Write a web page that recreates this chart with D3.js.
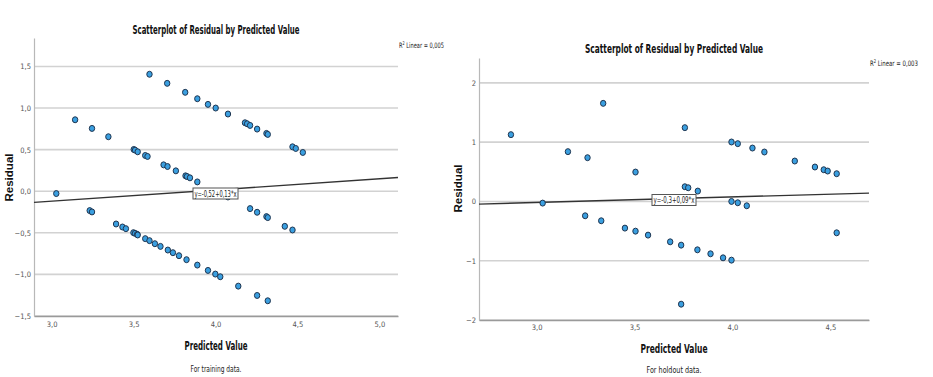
<!DOCTYPE html>
<html>
<head>
<meta charset="utf-8">
<title>Scatterplot of Residual by Predicted Value</title>
<style>
  body { margin: 0; background: #fff; }
  svg { display: block; }
  text { font-family: "Liberation Sans Narrow", "DejaVu Sans Condensed", "Arial Narrow", sans-serif; }
  .ttl { font-weight: bold; font-size: 11.5px; fill: #111; }
  .ylab { font-family: "Liberation Sans", Arial, sans-serif; font-weight: bold; font-size: 11px; fill: #111; }
  .note { font-size: 8.5px; fill: #222; }
  .r2 { font-size: 7.5px; fill: #222; }
  .eq { font-size: 8.5px; fill: #222; }
</style>
</head>
<body>
<svg width="933" height="377"></svg>
<script src="https://cdnjs.cloudflare.com/ajax/libs/d3/7.8.5/d3.min.js"></script>
<script>

// ---- training data (left panel) ----
var trainPred = [3.597, 3.705, 3.815, 3.889, 3.954, 4.001, 4.076, 4.180, 4.193, 4.211, 4.254, 4.311, 4.319, 4.470, 4.490, 4.533,
  3.143, 3.246, 3.346, 3.501, 3.509, 3.525, 3.571, 3.585, 3.683, 3.707, 3.758, 3.817, 3.826, 3.844, 3.889,
  4.076, 4.211, 4.254, 4.311, 4.319, 4.423, 4.470,
  3.028, 3.232, 3.246, 3.393, 3.432, 3.453, 3.499, 3.509, 3.522, 3.525, 3.571, 3.597, 3.630, 3.664, 3.709,
  3.740, 3.777, 3.823, 3.889, 3.954, 3.999, 4.029, 4.139, 4.254, 4.319];
var trainResid = [1.406, 1.297, 1.189, 1.112, 1.044, 1.000, 0.928, 0.823, 0.811, 0.791, 0.747, 0.695, 0.683, 0.534, 0.514, 0.466,
  0.859, 0.755, 0.655, 0.502, 0.494, 0.474, 0.430, 0.418, 0.317, 0.297, 0.245, 0.185, 0.177, 0.161, 0.112,
  -0.069, -0.209, -0.253, -0.305, -0.317, -0.422, -0.466,
  -0.028, -0.233, -0.249, -0.394, -0.430, -0.450, -0.498, -0.506, -0.518, -0.526, -0.570, -0.594, -0.631, -0.663, -0.707,
  -0.739, -0.775, -0.823, -0.888, -0.952, -0.996, -1.028, -1.141, -1.253, -1.317];
var trainXTicks = [3.0, 3.5, 4.0, 4.5, 5.0];
var trainYTicks = [-1.5, -1.0, -0.5, 0.0, 0.5, 1.0, 1.5];
var trainFit = [-0.525, 0.135];   // intercept, slope
var trainEq = "y=-0,52+0,13*x";
var trainR2 = "0,005";

// ---- holdout data (right panel) ----
var holdPred = [2.869, 3.160, 3.260, 3.340, 3.505, 3.757, 3.757, 3.774, 3.823, 3.995, 4.027, 4.102, 4.163, 4.318, 4.421, 4.466, 4.486, 4.532,
  3.031, 3.248, 3.330, 3.451, 3.505, 3.569, 3.682, 3.738, 3.821, 3.888, 3.952, 3.995, 3.738, 3.995, 4.027, 4.073, 4.532];
var holdResid = [1.127, 0.840, 0.738, 1.655, 0.496, 1.245, 0.248, 0.231, 0.175, 1.003, 0.975, 0.901, 0.834, 0.682, 0.581, 0.535, 0.513, 0.468,
  -0.028, -0.242, -0.326, -0.450, -0.501, -0.568, -0.681, -0.737, -0.816, -0.883, -0.951, -0.990, -1.733, 0.000, -0.022, -0.073, -0.529];
var holdXTicks = [3.0, 3.5, 4.0, 4.5];
var holdYTicks = [-2, -1, 0, 1, 2];
var holdFit = [-0.296, 0.093];
var holdEq = "y=-0,3+0,09*x";
var holdR2 = "0,003";

var svg = d3.select("svg");
var comma1 = function (d) { return d3.format(".1f")(d).replace(".", ","); };
var commaInt = function (d) { return d3.format("d")(d); };

// squeeze a text to the width seen in the screenshot
function fit(sel, w) {
  return sel.attr("textLength", w).attr("lengthAdjust", "spacingAndGlyphs");
}

function drawPanel(p) {
  var g = svg.append("g");
  var x = d3.scaleLinear().domain(p.xDomain).range([p.left, p.right]);
  var y = d3.scaleLinear().domain(p.yDomain).range([p.bottom, p.top]);

  // grid lines
  g.append("g").selectAll("line")
    .data(p.yTicks)
    .enter().append("line")
    .attr("x1", p.left).attr("x2", p.right)
    .attr("y1", function (d) { return y(d); })
    .attr("y2", function (d) { return y(d); })
    .attr("stroke", "#d2d2d2")
    .attr("stroke-width", 1.6);

  // axes
  var ax = g.append("g")
    .attr("transform", "translate(0," + p.bottom + ")")
    .call(d3.axisBottom(x).tickValues(p.xTicks).tickFormat(comma1).tickSize(0).tickPadding(p.xPad));
  ax.select(".domain").attr("stroke", "#9a9a9a").attr("stroke-width", 1.6);
  ax.selectAll("text").style("font-size", "7.5px").style("fill", "#555")
    .style("font-family", "'DejaVu Sans Condensed', sans-serif");

  var ay = g.append("g")
    .attr("transform", "translate(" + p.left + ",0)")
    .call(d3.axisLeft(y).tickValues(p.yTicks).tickFormat(p.yFormat).tickSize(0).tickPadding(3));
  ay.select(".domain").attr("stroke", "#b8b8b8").attr("stroke-width", 1.2);
  ay.selectAll("text").style("font-size", "7.5px").style("fill", "#555")
    .style("font-family", "'DejaVu Sans Condensed', sans-serif");

  // fit line
  g.append("line")
    .attr("x1", x(p.xDomain[0])).attr("x2", x(p.xDomain[1]))
    .attr("y1", y(p.fit[0] + p.fit[1] * p.xDomain[0]))
    .attr("y2", y(p.fit[0] + p.fit[1] * p.xDomain[1]))
    .attr("stroke", "#333")
    .attr("stroke-width", 1.4);

  // points
  g.append("g").selectAll("ellipse")
    .data(p.pred)
    .enter().append("ellipse")
    .attr("cx", function (d) { return x(d); })
    .attr("cy", function (d, i) { return y(p.resid[i]); })
    .attr("rx", 2.7).attr("ry", 3)
    .attr("fill", "#3a9fe0")
    .attr("stroke", "#1f3550")
    .attr("stroke-width", 1);

  // equation label
  var eq = g.append("g").attr("transform", "translate(" + p.eqPos[0] + "," + p.eqPos[1] + ")");
  fit(eq.append("text").attr("class", "eq").attr("x", 1.5).attr("y", 3).text(p.eq), p.eqW - 3);
  eq.insert("rect", "text")
    .attr("x", 0).attr("y", -5.5)
    .attr("width", p.eqW).attr("height", 11)
    .attr("fill", "#fff").attr("stroke", "#555").attr("stroke-width", 1);

  // R2
  var r2 = g.append("text").attr("class", "r2")
    .attr("x", p.right + 1).attr("y", p.r2y)
    .attr("textLength", p.r2W).attr("lengthAdjust", "spacingAndGlyphs");
  r2.append("tspan").text("R");
  r2.append("tspan").attr("dy", -3).style("font-size", "5px").text("2");
  r2.append("tspan").attr("dy", 3).text(" Linear = " + p.r2);

  // titles
  var cx = (p.left + p.right) / 2;
  fit(g.append("text").attr("class", "ttl").attr("x", cx).attr("y", p.titleY)
    .attr("text-anchor", "middle").text("Scatterplot of Residual by Predicted Value"), p.titleW);
  fit(g.append("text").attr("class", "ttl").attr("x", cx).attr("y", p.xlabY)
    .attr("text-anchor", "middle").text("Predicted Value"), p.xlabW);
  fit(g.append("text").attr("class", "note").attr("x", cx).attr("y", p.noteY)
    .attr("text-anchor", "middle").text(p.note), p.noteW);
  fit(g.append("text").attr("class", "ylab")
    .attr("transform", "translate(" + p.ylab[0] + "," + p.ylab[1] + ") rotate(-90)")
    .attr("text-anchor", "middle").text("Residual"), 48);
}

drawPanel({
  pred: trainPred, resid: trainResid,
  xDomain: [2.892, 5.114], yDomain: [-1.5, 1.842],
  left: 34, right: 398, top: 38, bottom: 316,
  xTicks: trainXTicks, yTicks: trainYTicks, yFormat: comma1, xPad: 6,
  fit: trainFit, eq: trainEq, eqPos: [193, 193.5], eqW: 45,
  r2: trainR2, r2y: 48, r2W: 45,
  titleY: 34, titleW: 167,
  xlabY: 350, xlabW: 63,
  noteY: 372, noteW: 51, note: "For training data.",
  ylab: [13, 177.5]
});

drawPanel({
  pred: holdPred, resid: holdResid,
  xDomain: [2.706, 4.697], yDomain: [-2, 2.42],
  left: 479, right: 869, top: 58, bottom: 320,
  xTicks: holdXTicks, yTicks: holdYTicks, yFormat: commaInt, xPad: 5,
  fit: holdFit, eq: holdEq, eqPos: [652, 200], eqW: 44,
  r2: holdR2, r2y: 66, r2W: 48,
  titleY: 53, titleW: 178,
  xlabY: 352.5, xlabW: 67,
  noteY: 373, noteW: 55, note: "For holdout data.",
  ylab: [461.5, 188.5]
});

</script>
</body>
</html>
